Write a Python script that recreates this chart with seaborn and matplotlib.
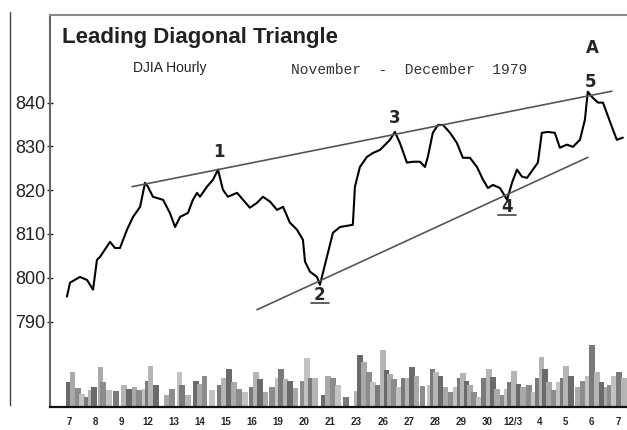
import numpy as np
import pandas as pd
import seaborn as sns
import matplotlib.pyplot as plt
from matplotlib.lines import Line2D

# trading days Nov 7 - Dec 7 1979 (x = day index)
day_labels = ["7", "8", "9", "12", "13", "14", "15", "16", "19", "20", "21",
              "23", "26", "27", "28", "29", "30", "12/3", "4", "5", "6", "7"]

# hourly DJIA
price_day = [-0.08, 0.04, 0.42, 0.69, 0.92, 1.07, 1.19, 1.57, 1.76, 1.95, 2.22,
             2.45, 2.72, 2.91, 3.02, 3.21, 3.60, 3.86, 4.06, 4.25, 4.55, 4.74,
             4.90, 5.01, 5.28, 5.51, 5.70, 5.89, 6.08, 6.43, 6.66, 6.92, 7.19,
             7.42, 7.69, 7.96, 8.19, 8.45, 8.72, 8.95, 9.03, 9.22, 9.49, 9.60,
             9.87, 10.10, 10.37, 10.86, 10.94, 11.13, 11.40, 11.63, 11.90,
             12.28, 12.47, 12.66, 12.93, 13.16, 13.43, 13.62, 13.73, 13.92,
             14.12, 14.31, 14.58, 14.84, 15.07, 15.34, 15.61, 15.84, 16.03,
             16.22, 16.49, 16.76, 16.95, 17.14, 17.33, 17.52, 17.75, 17.94,
             18.09, 18.32, 18.59, 18.78, 19.05, 19.28, 19.55, 19.74, 19.85,
             20.01, 20.24, 20.43, 20.77, 20.96, 21.19]
price = [795.7, 798.9, 800.2, 799.5, 797.3, 804.1, 804.8, 808.2, 806.8, 806.8,
         811.0, 813.9, 816.2, 821.7, 820.8, 818.5, 817.8, 814.8, 811.6, 813.9,
         814.8, 817.8, 819.4, 818.5, 820.8, 822.4, 824.7, 820.1, 818.5, 819.4,
         817.8, 816.0, 817.1, 818.5, 817.4, 815.5, 816.2, 812.6, 811.0, 808.7,
         803.7, 801.4, 800.2, 798.4, 804.8, 810.3, 811.6, 812.1, 820.8, 825.3,
         827.6, 828.5, 829.2, 831.5, 833.3, 830.8, 826.3, 826.5, 826.5, 825.3,
         827.6, 833.1, 834.9, 834.9, 833.1, 830.8, 827.4, 827.4, 825.3, 822.4,
         820.5, 821.2, 820.5, 817.8, 821.7, 824.7, 823.1, 822.8, 824.7, 826.3,
         833.1, 833.3, 833.1, 829.7, 830.4, 829.9, 831.5, 836.1, 842.5, 841.3,
         840.0, 840.0, 834.5, 831.5, 832.0]

# hourly volume (relative units)
vol_day = [0.00, 0.13, 0.34, 0.49, 0.68, 0.85, 0.96, 1.20, 1.31, 1.53, 1.79,
           2.10, 2.30, 2.51, 2.68, 2.91, 3.02, 3.11, 3.32, 3.75, 3.94, 4.22,
           4.32, 4.56, 4.85, 5.01, 5.19, 5.48, 5.78, 5.93, 6.12, 6.31, 6.50,
           6.73, 6.99, 7.15, 7.31, 7.52, 7.77, 7.98, 8.11, 8.28, 8.45, 8.66,
           8.96, 9.10, 9.25, 9.41, 9.73, 9.91, 10.11, 10.30, 10.59, 11.01,
           11.13, 11.29, 11.48, 11.64, 11.83, 12.02, 12.15, 12.28, 12.43,
           12.62, 12.82, 12.98, 13.13, 13.30, 13.52, 13.81, 13.91, 14.05,
           14.22, 14.41, 14.59, 14.78, 14.96, 15.07, 15.20, 15.34, 15.49,
           15.68, 15.88, 16.07, 16.23, 16.38, 16.58, 16.74, 16.87, 17.02,
           17.19, 17.38, 17.60, 17.79, 17.95, 18.08, 18.21, 18.36, 18.55,
           18.75, 18.91, 19.01, 19.20, 19.48, 19.67, 19.83, 20.02, 20.21,
           20.38, 20.57, 20.70, 20.85, 21.04, 21.24]
volume = [25, 35, 19, 13, 10, 17, 20, 40, 25, 17, 16, 22, 18, 20, 17, 18, 26,
          41, 22, 12, 18, 35, 22, 12, 26, 23, 31, 17, 22, 29, 38, 25, 18, 15,
          20, 35, 28, 15, 20, 29, 38, 28, 26, 19, 26, 49, 29, 29, 12, 31, 29,
          22, 10, 16, 52, 45, 35, 25, 22, 57, 37, 33, 28, 20, 29, 29, 40, 31,
          21, 22, 38, 35, 31, 20, 15, 20, 29, 34, 26, 22, 15, 10, 29, 38, 30,
          18, 12, 18, 25, 36, 23, 20, 22, 15, 29, 50, 38, 25, 17, 25, 29, 41,
          31, 20, 26, 31, 62, 35, 25, 20, 22, 31, 35, 29]

# trendlines (start / end)
upper_day = [2.41, 20.77]
upper_val = [820.8, 842.6]
lower_day = [7.19, 19.85]
lower_val = [792.7, 827.5]

# wave count labels
wave_text = ["1", "2", "3", "4", "5", "A"]
wave_day = [5.74, 9.60, 12.47, 16.76, 19.97, 20.01]
wave_val = [828.8, 796.1, 836.5, 816.2, 844.7, 852.5]

df = pd.DataFrame({"day": price_day, "price": price})

sns.set_style("white")
plt.rcParams["font.family"] = ["Liberation Sans", "DejaVu Sans"]

fig = plt.figure(figsize=(6.27, 4.30), dpi=100)
ax = fig.add_axes([50 / 627, 1 - 407 / 430, 577 / 627, 392 / 430])
ax2 = ax.twinx()

# volume bars at the bottom
shades = ["#6a6a6a", "#a9a9a9", "#8c8c8c", "#c2c2c2", "#7a7a7a", "#b5b5b5"]
ax2.bar(vol_day, volume, width=0.21,
        color=[shades[i % len(shades)] for i in range(len(volume))], linewidth=0)
ax2.set_ylim(0, 392)
ax2.set_yticks([])
for s in ax2.spines.values():
    s.set_visible(False)

ax.set_zorder(ax2.get_zorder() + 1)
ax.patch.set_visible(False)

sns.lineplot(data=df, x="day", y="price", ax=ax, color="black", lw=1.5,
             estimator=None)
sns.lineplot(x=upper_day, y=upper_val, ax=ax, color="#555555", lw=1.2)
sns.lineplot(x=lower_day, y=lower_val, ax=ax, color="#555555", lw=1.2)

for t, d, v in zip(wave_text, wave_day, wave_val):
    ax.text(d, v, t, ha="center", va="center", fontsize=12, fontweight="bold",
            family=["DejaVu Sans"])
    if t in ("2", "4"):
        ax.plot([d - 0.35, d + 0.35], [v - 1.9, v - 1.9], color="#444444", lw=1.2)

ax.set_xlim(-0.727, 21.35)
ax.set_ylim(770.5, 860)
ax.set_xticks(range(len(day_labels)))
ax.set_xticklabels(day_labels, fontsize=7, fontweight="bold")
ax.set_yticks([790, 800, 810, 820, 830, 840])
ax.tick_params(axis="y", direction="inout", length=5, width=1, labelsize=13,
               pad=1, colors="#222222")
ax.tick_params(axis="x", direction="out", length=4, width=1.2, pad=3)
ax.set_xlabel("")
ax.set_ylabel("")

ax.spines["right"].set_visible(False)
ax.spines["top"].set_color("#8a8a8a")
ax.spines["top"].set_linewidth(1.5)
ax.spines["left"].set_color("#666666")
ax.spines["left"].set_linewidth(1.5)
ax.spines["bottom"].set_color("#111111")
ax.spines["bottom"].set_linewidth(1.6)

fig.text(62 / 627, 1 - 37 / 430, "Leading Diagonal Triangle", fontsize=16,
         fontweight="bold", va="center", ha="left", color="#222222")
fig.text(170 / 627, 1 - 68 / 430, "DJIA Hourly", fontsize=10, va="center",
         ha="center", color="#222222")
fig.text(409 / 627, 1 - 70 / 430, "November  -  December  1979", fontsize=10.5,
         va="center", ha="center", family=["Liberation Mono"], color="#333333")

# scan frame edge on the far left
fig.add_artist(Line2D([10 / 627, 10 / 627], [1 - 12 / 430, 1 - 405 / 430],
                      color="#444444", lw=1))

fig.savefig("out.png", dpi=100)
